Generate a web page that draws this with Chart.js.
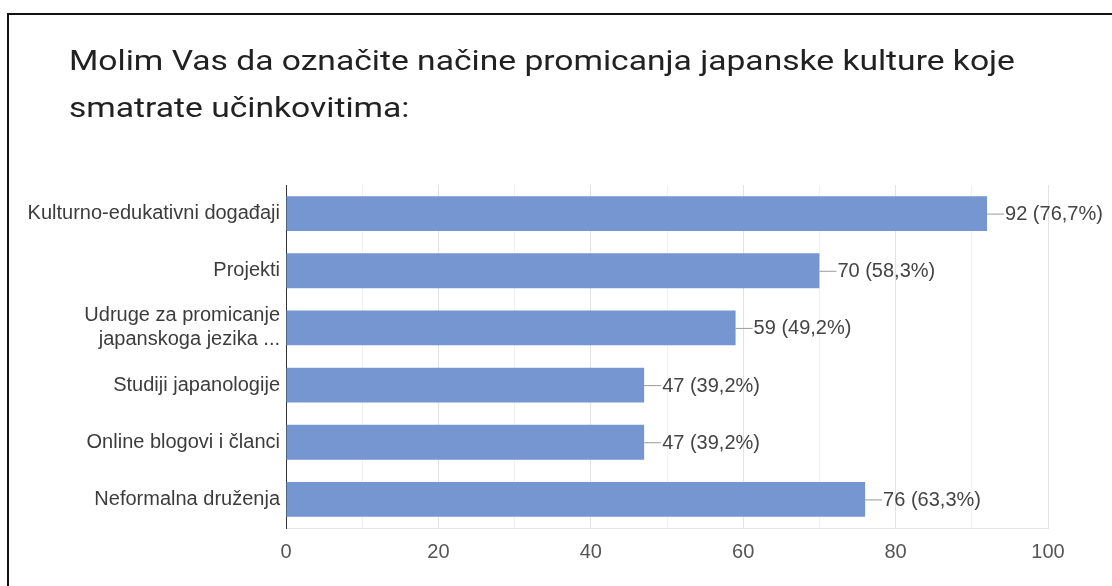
<!DOCTYPE html>
<html>
<head>
<meta charset="utf-8">
<script src="https://cdn.jsdelivr.net/npm/chart.js@4/dist/chart.umd.min.js"></script>
<style>
  html, body { margin: 0; padding: 0; background: #fff; }
  body { width: 1112px; height: 586px; position: relative; overflow: hidden; }
  .frame { position: absolute; left: 7px; top: 13px; width: 1200px; height: 700px;
           border-left: 2px solid #111; border-top: 2px solid #111; }
  .title { position: absolute; left: 69px; top: 37px; font-family: Roboto, sans-serif;
           font-size: 28px; line-height: 47px; color: #212121; white-space: nowrap;
           transform: scaleX(1.2); transform-origin: 0 0; }
  .chart-wrap { position: absolute; left: 0; top: 0; width: 1112px; height: 586px; }
</style>
</head>
<body>
<div class="frame"></div>
<div class="chart-wrap"><canvas id="answers"></canvas></div>
<div class="title">Molim Vas da označite načine promicanja japanske kulture koje<br>smatrate učinkovitima:</div>
<script>
// podaci s grafa
const categories = [
    'Kulturno-edukativni događaji',
    'Projekti',
    ['Udruge za promicanje', 'japanskoga jezika ...'],
    'Studiji japanologije',
    'Online blogovi i članci',
    'Neformalna druženja'
];
const counts = [92, 70, 59, 47, 47, 76];
const percents = ['76,7', '58,3', '49,2', '39,2', '39,2', '63,3'];
const xTicks = [0, 20, 40, 60, 80, 100];

const barColor = '#7596d1';
const labelFont = { family: "'Liberation Sans', Arial, sans-serif", size: 20 };

// oznake vrijednosti s kratkom linijom uz kraj stupca
const valueLabels = {
    id: 'valueLabels',
    afterDatasetsDraw(chart) {
        const ctx = chart.ctx;
        const meta = chart.getDatasetMeta(0);
        ctx.save();
        ctx.font = '20px ' + labelFont.family;
        ctx.textBaseline = 'middle';
        ctx.textAlign = 'left';
        meta.data.forEach((bar, i) => {
            ctx.strokeStyle = '#999';
            ctx.lineWidth = 1;
            ctx.beginPath();
            ctx.moveTo(bar.x, bar.y + 0.5);
            ctx.lineTo(bar.x + 17, bar.y + 0.5);
            ctx.stroke();
            ctx.fillStyle = '#444';
            ctx.fillText(counts[i] + ' (' + percents[i] + '%)', bar.x + 18, bar.y + 1);
        });
        ctx.restore();
    }
};

new Chart(document.getElementById('answers'), {
    type: 'bar',
    data: {
        labels: categories,
        datasets: [{
            data: counts,
            backgroundColor: barColor,
            borderWidth: 0,
            categoryPercentage: 1,
            barPercentage: 0.61
        }]
    },
    options: {
        indexAxis: 'y',
        responsive: true,
        maintainAspectRatio: false,
        animation: false,
        layout: { padding: { top: 185, right: 64, left: 0, bottom: 0 } },
        plugins: {
            legend: { display: false },
            tooltip: { enabled: false }
        },
        scales: {
            x: {
                min: 0,
                max: 100,
                afterFit: s => { s.height = 58; },
                ticks: {
                    stepSize: 10,
                    autoSkip: false,
                    maxRotation: 0,
                    padding: 12,
                    color: '#555',
                    font: labelFont,
                    callback: v => xTicks.includes(v) ? v : ''
                },
                grid: {
                    drawTicks: false,
                    color: c => (c.tick && c.tick.value % 20 === 0) ? '#e2e2e2' : '#f1f1f1'
                },
                border: { display: true, color: '#e6e6e6' }
            },
            y: {
                afterFit: s => { s.width = 286; },
                ticks: {
                    padding: 6,
                    color: '#3c3c3c',
                    font: labelFont
                },
                grid: { display: false, drawTicks: false },
                border: { display: true, color: '#333', width: 1 }
            }
        }
    },
    plugins: [valueLabels]
});
</script>
</body>
</html>
